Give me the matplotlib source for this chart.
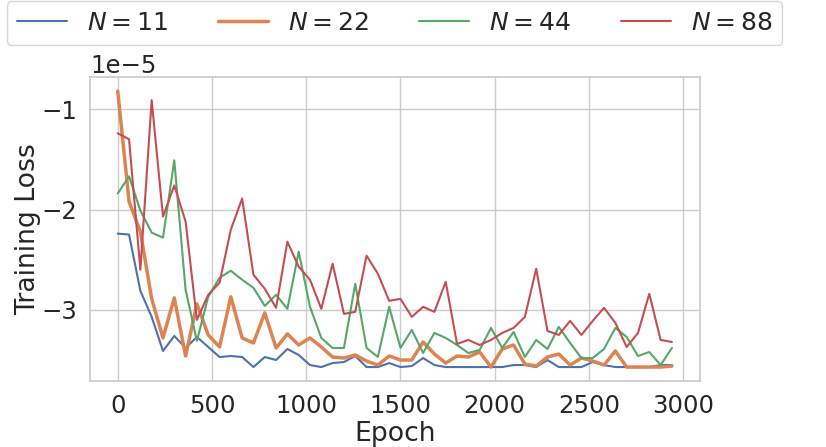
import numpy as np
import matplotlib
matplotlib.use("Agg")
import matplotlib.pyplot as plt
import seaborn as sns
from matplotlib.ticker import MultipleLocator

# epochs, one point every 60 epochs
epochs = np.arange(0, 3000, 60)

# training loss (units of 1e-5)
loss_n11 = [-2.24, -2.25, -2.81, -3.07, -3.41, -3.26, -3.38, -3.27, -3.37, -3.47,
            -3.46, -3.47, -3.57, -3.47, -3.50, -3.39, -3.45, -3.55, -3.57, -3.53,
            -3.52, -3.46, -3.57, -3.57, -3.53, -3.57, -3.56, -3.48, -3.55, -3.57,
            -3.57, -3.57, -3.57, -3.57, -3.57, -3.55, -3.55, -3.57, -3.50, -3.57,
            -3.57, -3.57, -3.52, -3.55, -3.57, -3.57, -3.57, -3.57, -3.55, -3.55]
loss_n22 = [-0.82, -1.92, -2.22, -2.89, -3.28, -2.88, -3.46, -2.94, -3.25, -3.37,
            -2.87, -3.28, -3.33, -3.03, -3.38, -3.24, -3.35, -3.28, -3.37, -3.47,
            -3.48, -3.45, -3.51, -3.55, -3.46, -3.50, -3.50, -3.32, -3.44, -3.53,
            -3.46, -3.47, -3.42, -3.57, -3.39, -3.35, -3.54, -3.56, -3.47, -3.44,
            -3.55, -3.48, -3.51, -3.55, -3.41, -3.57, -3.57, -3.57, -3.57, -3.56]
loss_n44 = [-1.84, -1.67, -2.01, -2.23, -2.28, -1.51, -2.80, -3.31, -2.87, -2.68,
            -2.61, -2.70, -2.78, -2.96, -2.85, -2.99, -2.42, -2.97, -3.28, -3.38,
            -3.38, -2.74, -3.38, -3.47, -2.97, -3.38, -3.20, -3.43, -3.23, -3.28,
            -3.35, -3.43, -3.40, -3.18, -3.38, -3.22, -3.47, -3.30, -3.39, -3.17,
            -3.33, -3.48, -3.48, -3.39, -3.18, -3.27, -3.46, -3.42, -3.55, -3.38]
loss_n88 = [-1.24, -1.30, -2.60, -0.91, -2.07, -1.76, -2.12, -3.10, -2.85, -2.73,
            -2.20, -1.89, -2.65, -2.79, -2.98, -2.32, -2.57, -2.70, -2.99, -2.54,
            -3.04, -3.02, -2.46, -2.64, -2.91, -2.89, -3.07, -2.97, -3.02, -2.72,
            -3.34, -3.30, -3.35, -3.30, -3.23, -3.18, -3.07, -2.59, -3.21, -3.25,
            -3.11, -3.25, -3.11, -2.98, -3.13, -3.37, -3.23, -2.84, -3.30, -3.32]

labels = [r'$N=11$', r'$N=22$', r'$N=44$', r'$N=88$']

sns.set_theme(style='whitegrid', font_scale=1.6)
plt.rcParams['font.family'] = ['DejaVu Sans']

fig = plt.figure(figsize=(8.26, 4.47), dpi=100)
ax = fig.add_axes([0.109, 0.148, 0.738, 0.679])

series = [loss_n11, loss_n22, loss_n44, loss_n88]
widths = [1.5, 2.5, 1.5, 1.5]
for ys, lab, lw in zip(series, labels, widths):
    ax.plot(epochs, np.array(ys) * 1e-5, label=lab, linewidth=lw)

ax.yaxis.set_major_locator(MultipleLocator(1e-5))
ax.set_xticks([0, 500, 1000, 1500, 2000, 2500, 3000])
ax.set_xlabel('Epoch', labelpad=2)
ax.set_ylabel('Training Loss', labelpad=0)

fig.legend(loc='upper center', bbox_to_anchor=(0.478, 0.998), ncol=4,
           borderaxespad=0, columnspacing=2.0, fontsize=18)

fig.savefig('out.png', dpi=100)
